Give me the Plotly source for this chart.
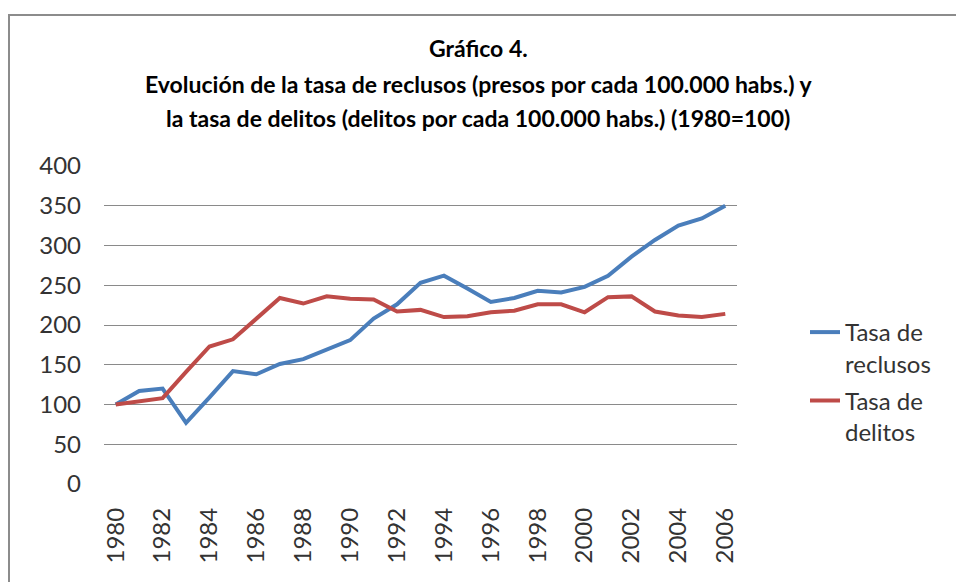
import plotly.graph_objects as go

years = list(range(1980, 2007))
reclusos = [100, 117, 120, 77, 109, 142, 138, 151, 157, 169, 181, 208, 226, 253, 262, 246,
            229, 234, 243, 241, 248, 262, 286, 307, 325, 334, 350]
delitos = [100, 104, 108, 141, 173, 182, 208, 234, 227, 236, 233, 232, 217, 219, 210, 211,
           216, 218, 226, 226, 216, 235, 236, 217, 212, 210, 214]
tick_years = list(range(1980, 2007, 2))
title_lines = [
    "Gráfico 4.",
    "Evolución de la tasa de reclusos (presos por cada 100.000 habs.) y",
    "la tasa de delitos (delitos por cada 100.000 habs.) (1980=100)",
]

FONT = "Lato"
fig = go.Figure()
fig.add_trace(go.Scatter(x=years, y=reclusos, mode="lines", name="Tasa de<br>reclusos",
                         legendgroup="reclusos",
                         line=dict(color="#4A7EBB", width=4)))
fig.add_trace(go.Scatter(x=years, y=delitos, mode="lines", name="Tasa de<br>delitos",
                         legendgroup="delitos",
                         line=dict(color="#BE4B48", width=4)))

L, R, T, B = 104, 737, 166, 484
W, H = 956, 582
pw, ph = R - L, B - T

def px(x):
    return (x - L) / pw

def py(y):
    return (B - y) / ph

annos = []
for text, yy in zip(title_lines, [48, 84, 118]):
    annos.append(dict(text="<b>" + text + "</b>", x=px(478), y=py(yy), xref="paper", yref="paper",
                      showarrow=False, xanchor="center", yanchor="middle",
                      font=dict(family=FONT, size=23, color="#000000")))

fig.update_layout(
    width=W, height=H,
    margin=dict(l=L, r=W - R, t=T, b=H - B, pad=0),
    paper_bgcolor="white", plot_bgcolor="white",
    font=dict(family=FONT, color="#333333"),
    annotations=annos,
    showlegend=True,
    legend=dict(x=px(805), y=py(310), xanchor="left", yanchor="top", valign="top",
                font=dict(family=FONT, size=24, color="#333333"), tracegroupgap=3,
                bgcolor="rgba(0,0,0,0)"),
    shapes=[dict(type="rect", xref="paper", yref="paper", x0=px(9), x1=px(1100),
                 y0=py(800), y1=py(15), line=dict(color="#8c8c8c", width=2),
                 fillcolor="rgba(0,0,0,0)", layer="below")],
    xaxis=dict(range=[1979.5, 2006.5], tickmode="array", tickvals=tick_years,
               ticktext=[str(y) for y in tick_years], tickangle=-90, showgrid=False,
               zeroline=False, showline=False, ticks="", ticklabelstandoff=18,
               tickfont=dict(family=FONT, size=24, color="#333333")),
    yaxis=dict(range=[0, 400], tickvals=[0, 50, 100, 150, 200, 250, 300, 350, 400],
               showgrid=True, gridcolor="#8a8a8a", gridwidth=1, zeroline=False,
               showline=False, ticks="", ticklabelstandoff=22,
               tickfont=dict(family=FONT, size=24, color="#333333")),
)

fig.write_html("out.html", config={"displayModeBar": False},
               post_script="document.body.style.margin='0';document.body.style.padding='0';")
